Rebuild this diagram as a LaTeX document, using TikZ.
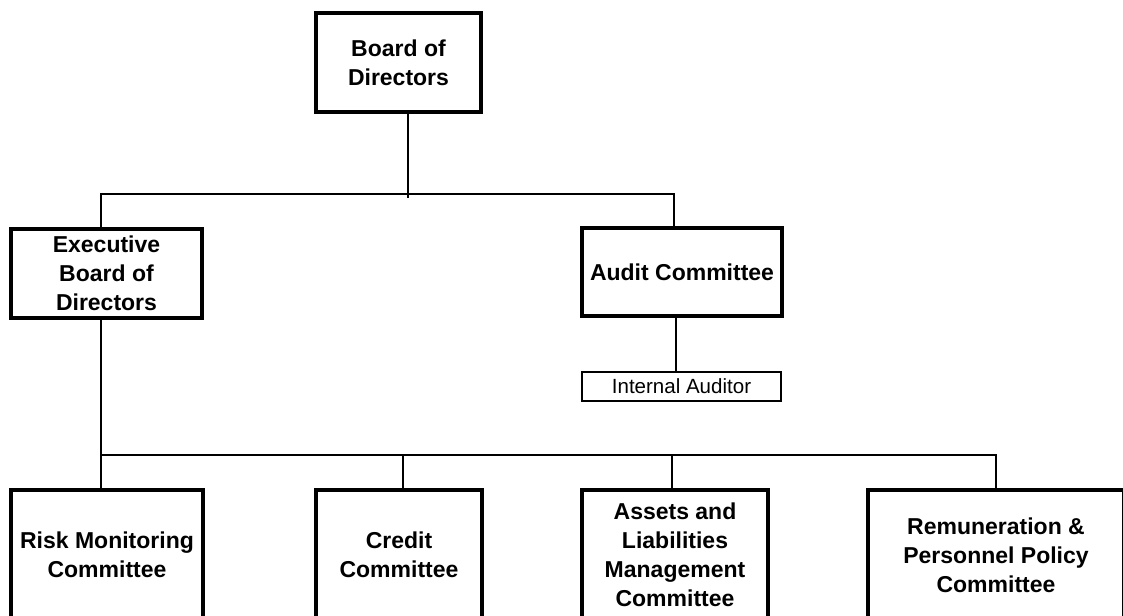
\documentclass[tikz,border=0pt]{standalone}
\usepackage{fontspec}
\setmainfont{Liberation Sans}
\usetikzlibrary{calc}
\begin{document}
\begin{tikzpicture}[x=0.75pt,y=-0.75pt,
  box/.style={draw,line width=3pt,align=center,inner sep=0pt,
    font=\bfseries\fontsize{17.25}{21.75}\selectfont},
  smallbox/.style={draw,line width=1.1pt,align=center,inner sep=0pt,
    font=\fontsize{15.4}{18}\selectfont},
  conn/.style={line width=1.1pt}]
\useasboundingbox (0,0) rectangle (1123,616);
\clip (0,0) rectangle (1123,616);
\node[box,minimum width=123.75pt,minimum height=74.25pt] (bod) at (398.5,62.5) {Board of\\Directors};
\node[box,minimum width=143.25pt,minimum height=66.75pt] (exec) at (106.5,273.5) {Executive\\Board of\\Directors};
\node[box,minimum width=150pt,minimum height=66pt] (audit) at (682,272) {Audit Committee};
\node[smallbox,minimum width=149.25pt,minimum height=21.75pt] (ia) at (681.5,386.5) {Internal Auditor};
\node[box,minimum width=144pt,minimum height=97.5pt] (risk) at (107,555) {Risk Monitoring\\Committee};
\node[box,minimum width=124.5pt,minimum height=97.5pt] (credit) at (399,555) {Credit\\Committee};
\node[box,minimum width=139.5pt,minimum height=97.5pt] (assets) at (675,555) {Assets and\\Liabilities\\Management\\Committee};
\node[box,minimum width=192pt,minimum height=97.5pt] (remun) at (996,555) {Remuneration \&\\Personnel Policy\\Committee};
\draw[conn] ($(bod.south)+(9.5,0)$) -- ($(bod.south)+(9.5,84)$);
\draw[conn] ($(exec.north)+(-5.5,0)$) |- ($(audit.north)+(-8,-32)$) -- ($(audit.north)+(-8,0)$);
\draw[conn] ($(audit.south)+(-6,0)$) -- ($(ia.north)+(-5.5,0)$);
\draw[conn] ($(exec.south)+(-5.5,0)$) -- ($(risk.north)+(-6,0)$);
\draw[conn] ($(risk.north)+(-6,-33)$) -| (remun.north);
\draw[conn] ($(credit.north)+(4,0)$) -- ($(credit.north)+(4,-33)$);
\draw[conn] ($(assets.north)+(-3,0)$) -- ($(assets.north)+(-3,-33)$);
\end{tikzpicture}
\end{document}
